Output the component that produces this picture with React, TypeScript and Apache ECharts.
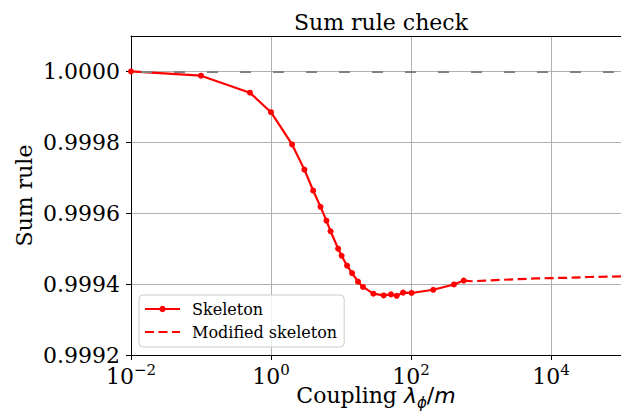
import React, { useEffect, useRef } from "react";
import * as echarts from "echarts";

const skeletonX = [0.01, 0.1, 0.5, 1, 2, 3, 4, 5.1, 6.2, 7.1, 9.1, 10.2, 12.2, 14.4, 17.5, 20.6, 29, 40.7, 51.8, 62.5, 77, 102, 208, 411, 566];
const skeletonY = [1.0, 0.999988, 0.99994, 0.999885, 0.999794, 0.999723, 0.999664, 0.999618, 0.999579, 0.999549, 0.9995, 0.99948, 0.999452, 0.999431, 0.999407, 0.999392, 0.999373, 0.999368, 0.999371, 0.999367, 0.999376, 0.999375, 0.999384, 0.999399, 0.99941];

const modifiedX = [566, 741, 1140, 2000, 3390, 6100, 10000, 19300, 34000, 65000, 100000];
const modifiedY = [0.99941, 0.999408, 0.99941, 0.999412, 0.999414, 0.999416, 0.999417, 0.999418, 0.99942, 0.999421, 0.999422];

const xTicks = [0.01, 1, 100, 10000];
const yTicks = [0.9992, 0.9994, 0.9996, 0.9998, 1.0];

const SERIF = "DejaVu Serif";
const MATH = "DejaVu Sans";

export default function App() {
  const ref = useRef<HTMLDivElement>(null);
  useEffect(() => {
    if (!ref.current) return;
    const chart = echarts.init(ref.current, null, { renderer: "svg" });
    const supExp = (v: number) => {
      const e = Math.round(Math.log10(v));
      const s = e < 0 ? "\u2212" + String(-e) : String(e);
      return "10{sup|" + s + "}";
    };
    chart.setOption({
      animation: false,
      backgroundColor: "#ffffff",
      title: {
        text: "Sum rule check",
        left: 376,
        top: 6,
        textAlign: "center",
        textStyle: { fontFamily: SERIF, fontSize: 22, fontWeight: "normal", color: "#000" },
      },
      grid: { left: 131, right: 0, top: 36, bottom: 63, outerBoundsMode: "none", containLabel: false },
      legend: {
        left: 139,
        top: 295,
        orient: "vertical",
        selectedMode: false,
        itemWidth: 35,
        itemHeight: 8,
        itemGap: 7,
        padding: [6, 7, 7, 5],
        backgroundColor: "rgba(255,255,255,0.8)",
        borderColor: "#cccccc",
        borderWidth: 1,
        borderRadius: 4,
        textStyle: { fontFamily: SERIF, fontSize: 16, color: "#000", padding: [0, 0, 0, 7] },
        data: [
          { name: "Skeleton" },
          { name: "Modified skeleton", itemStyle: { opacity: 0 } },
        ],
      },
      xAxis: [
        {
          type: "log",
          logBase: 10,
          min: 0.01,
          max: 100000,
          name: "Coupling {it|λ}{sub|ϕ}{n|/}{it|m}",
          nameLocation: "middle",
          nameGap: 25,
          nameMoveOverlap: false,
          nameTextStyle: {
            fontFamily: SERIF,
            fontSize: 22,
            color: "#000",
            lineHeight: 30,
            rich: {
              it: { fontFamily: MATH, fontStyle: "italic", fontSize: 22, color: "#000", lineHeight: 30 },
              n: { fontFamily: MATH, fontSize: 22, color: "#000", lineHeight: 30 },
              sub: { fontFamily: MATH, fontStyle: "italic", fontSize: 15, color: "#000", lineHeight: 12, verticalAlign: "bottom" },
            },
          },
          axisLine: { show: true, onZero: false, lineStyle: { color: "#000", width: 1 } },
          axisTick: { show: true, length: 5, lineStyle: { color: "#000", width: 1 }, customValues: xTicks },
          axisLabel: {
            customValues: xTicks,
            margin: 7,
            formatter: (v: number) => supExp(v),
            fontFamily: SERIF,
            fontSize: 22,
            color: "#000",
            lineHeight: 28,
            rich: {
              sup: { fontFamily: SERIF, fontSize: 15, color: "#000", lineHeight: 13, verticalAlign: "top" },
            },
          },
          splitLine: { show: true, lineStyle: { color: "#b0b0b0", width: 1 } },
          minorTick: { show: false },
        },
        {
          type: "log",
          logBase: 10,
          min: 0.01,
          max: 100000,
          position: "top",
          axisLine: { show: true, onZero: false, lineStyle: { color: "#000", width: 1 } },
          axisTick: { show: false },
          axisLabel: { show: false },
          splitLine: { show: false },
        },
      ],
      yAxis: {
        type: "value",
        min: 0.9992,
        max: 1.0001,
        name: "Sum rule",
        nameLocation: "middle",
        nameGap: 96,
        nameRotate: 90,
        nameMoveOverlap: false,
        nameTextStyle: { fontFamily: SERIF, fontSize: 22, color: "#000" },
        axisLine: { show: true, onZero: false, lineStyle: { color: "#000", width: 1 } },
        axisTick: { show: true, length: 5, lineStyle: { color: "#000", width: 1 }, customValues: yTicks },
        axisLabel: {
          customValues: yTicks,
          margin: 11,
          formatter: (v: number) => v.toFixed(4),
          fontFamily: SERIF,
          fontSize: 22,
          color: "#000",
        },
        splitLine: { show: true, lineStyle: { color: "#b0b0b0", width: 1 } },
      },
      series: [
        {
          name: "Modified skeleton",
          type: "line",
          xAxisIndex: 0,
          data: modifiedX.map((x, i) => [x, modifiedY[i]]),
          symbol: "none",
          lineStyle: { color: "#ff0000", width: 2.2, type: [9, 4.5] },
          itemStyle: { color: "#ff0000" },
          z: 3,
        },
        {
          name: "Skeleton",
          type: "line",
          xAxisIndex: 0,
          data: skeletonX.map((x, i) => [x, skeletonY[i]]),
          symbol: "circle",
          symbolSize: 6,
          showSymbol: true,
          lineStyle: { color: "#ff0000", width: 2.2 },
          itemStyle: { color: "#ff0000" },
          z: 4,
          markLine: {
            silent: true,
            symbol: "none",
            label: { show: false },
            lineStyle: { color: "#808080", type: [11, 22], width: 2, dashOffset: 23 },
            data: [{ yAxis: 1.0 }],
            z: 5,
          },
        },
      ],
    });
    return () => chart.dispose();
  }, []);
  return <div ref={ref} style={{ width: 621, height: 418, position: "absolute", left: 0, top: 0 }} />;
}
